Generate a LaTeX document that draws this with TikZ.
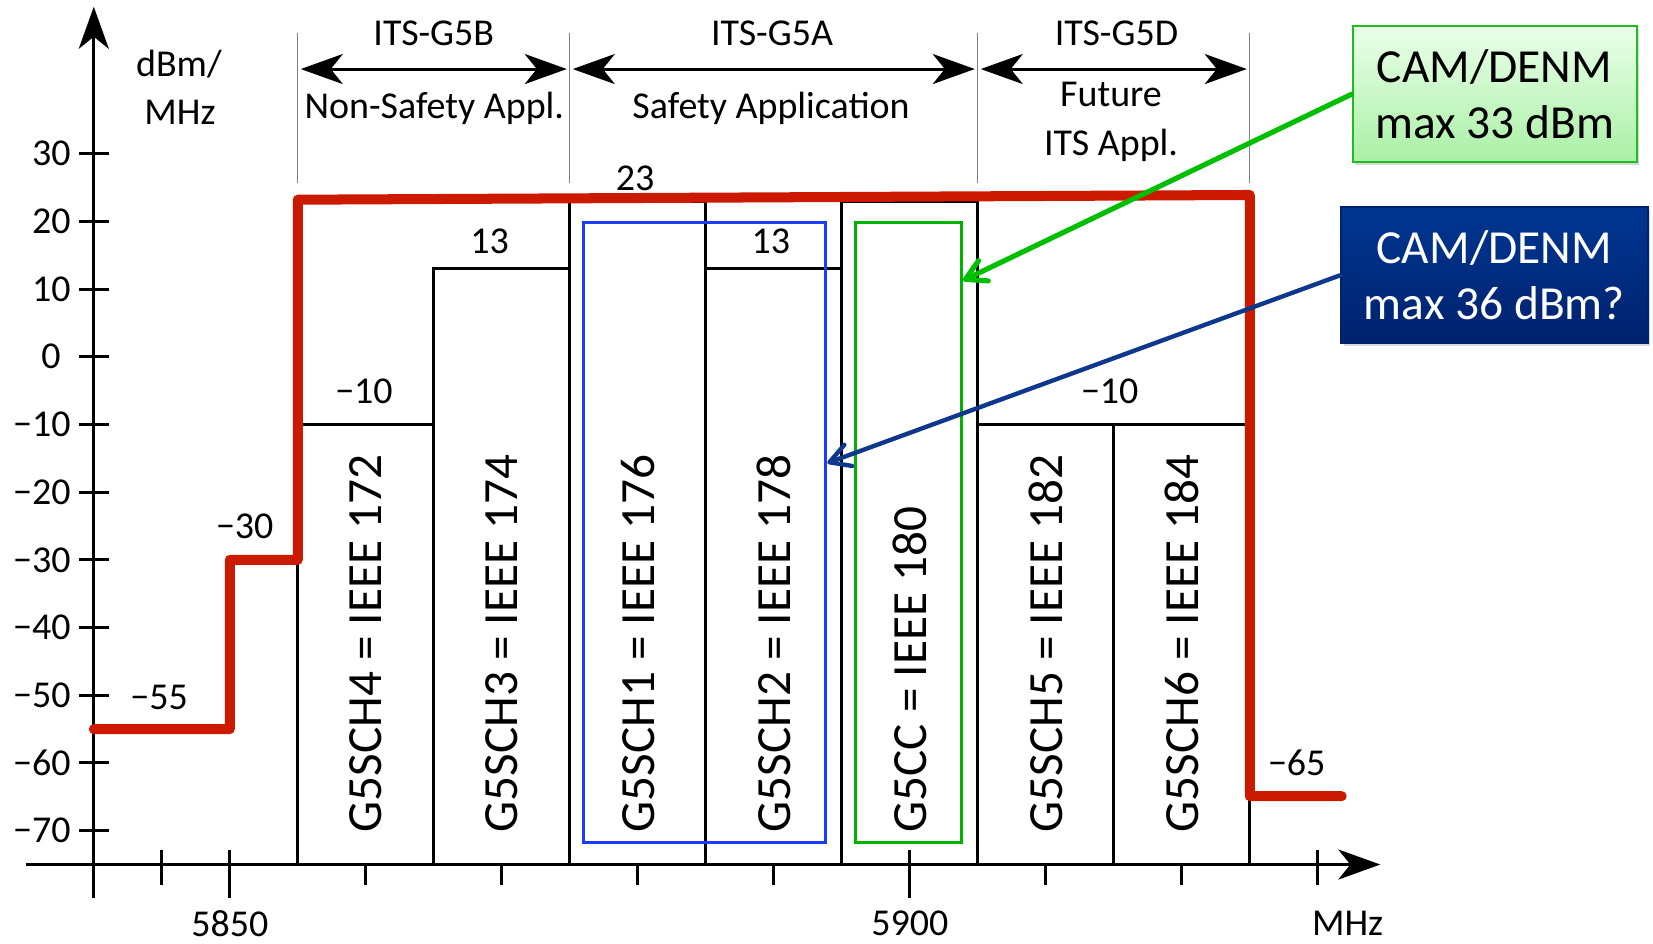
\documentclass[tikz,border=0pt]{standalone}
\usepackage{fontspec}
\setmainfont{Carlito}
\usetikzlibrary{arrows.meta,calc,shadows}

\definecolor{maskred}{RGB}{204,26,0}
\definecolor{schblue}{RGB}{25,60,255}
\definecolor{ccgreen}{RGB}{0,180,0}
\definecolor{arrgreen}{RGB}{0,190,0}
\definecolor{arrblue}{RGB}{15,55,140}
\definecolor{cgtop}{RGB}{234,255,234}
\definecolor{cgbot}{RGB}{170,240,165}
\definecolor{cgline}{RGB}{30,190,30}
\definecolor{cbtop}{RGB}{0,54,145}
\definecolor{cbbot}{RGB}{0,34,110}

\newcommand\lblfont{\fontsize{21.6}{25}\selectfont}
\newcommand\bigfont{\fontsize{27}{32}\selectfont}
\newcommand\chfont{\fontsize{28}{32}\selectfont}

\begin{document}
\begin{tikzpicture}[x=0.272cm,y=0.1354cm,
    >={Stealth[length=0.84cm,width=0.6cm,inset=0.24cm]},
    every node/.style={inner sep=0pt,font=\lblfont},
    axisline/.style={line width=1.7pt},
    chline/.style={line width=1.7pt},
    bandsep/.style={gray,line width=0.8pt},
    bandarrow/.style={line width=1.7pt,<->,shorten <=1.7pt,shorten >=1.7pt},
    redmask/.style={maskred,line width=5.7pt,line join=round,line cap=round},
    chlabel/.style={rotate=90,anchor=west,font=\chfont},
    hlbox/.style={line width=1.7pt,minimum height=12.40cm},
    callout/.style={minimum height=2.72cm,align=center,font=\bigfont,line width=1.1pt,
        drop shadow={shadow xshift=1.5pt,shadow yshift=-1.5pt,opacity=0.3}},
    callarrow/.style={line width=2.9pt,line cap=round,-{Straight Barb[length=0.4cm,width=0.45cm,round]}}]
\useasboundingbox (-6.897,-86.60) rectangle (114.65,52.70);

% axes
\coordinate (ybot) at (0,-80);
\coordinate (ytop) at (0,51.7);
\coordinate (xbeg) at (-5,-75);
\coordinate (xend) at (94.6,-75);
\draw[axisline,->] (ybot) -- (ytop);
\draw[axisline,->] (xbeg) -- (xend);
\foreach \v in {30,20,...,-70}
    \draw[axisline] (-1.1,\v) -- (1.1,\v);
\foreach \v/\t in {30/30,20/20,10/10,-10/−10,-20/−20,-30/−30,-40/−40,-50/−50,-60/−60,-70/−70}
    \node[anchor=east] (yl\v) at (-1.68,\v) {\t};
\node[anchor=east] (yl0) at (-2.41,0) {0};
\foreach \f in {20,30,...,80}
    \draw[axisline] (\f,-75) -- (\f,-77.95);
\foreach \f in {5,90}
    \draw[axisline] (\f,-72.8) -- (\f,-77.95);
\foreach \f in {10,60}
    \draw[axisline] (\f,-72.8) -- (\f,-80);
\node (f5850) at (10,-83.7) {5850};
\node (f5900) at (60,-83.7) {5900};
\node (fmhz) at (92.2,-83.7) {MHz};
\node[anchor=base] (unit1) at (6.26,41.37) {dBm/};
\node[anchor=base] (unit2) at (6.34,34.38) {MHz};

% channels
\foreach \lo/\hi in {15/-10,25/13,35/23,45/13,55/23,65/-10,75/-10}
    \draw[chline] (\lo,-75) rectangle (\lo+10,\hi);
\draw[chline] (85,-75) -- (85,-65);
\foreach \c/\t in {20/G5SCH4 = IEEE 172,30/G5SCH3 = IEEE 174,40/G5SCH1 = IEEE 176,
    50/G5SCH2 = IEEE 178,60/G5CC = IEEE 180,70/G5SCH5 = IEEE 182,80/G5SCH6 = IEEE 184}
    \node[chlabel] (ch\c) at (\c,-70.3) {\t};

% limits
\node (v55) at (4.8,-50.26) {−55};
\node (v30) at (11.1,-25.1) {−30};
\node (v10a) at (19.87,-5.16) {−10};
\node (v13a) at (29.1,16.99) {13};
\node (v23) at (39.8,26.36) {23};
\node (v13b) at (49.79,16.99) {13};
\node (v10b) at (74.7,-5.16) {−10};
\node (v65) at (88.45,-59.93) {−65};
\draw[redmask] (0,-55) -- (10,-55) -- (10,-30) -- (15,-30) -- (15,23.2)
    -- (85,23.9) -- (85,-64.9) -- (91.76,-64.9);

% bands
\foreach \b in {15,35,65,85}
    \draw[bandsep] (\b,25.6) -- (\b,47.8);
\coordinate (b1) at (15,42.5);
\coordinate (b2) at (35,42.5);
\coordinate (b3) at (65,42.5);
\coordinate (b4) at (85,42.5);
\draw[bandarrow] (b1) -- (b2);
\draw[bandarrow] (b2) -- (b3);
\draw[bandarrow] (b3) -- (b4);
\node[anchor=base] (g5b) at (25,46.05) {ITS-G5B};
\node[anchor=base] (g5bt) at (25.04,35.22) {Non-Safety Appl.};
\node[anchor=base] (g5a) at (49.87,46.05) {ITS-G5A};
\node[anchor=base] (g5at) at (49.8,35.22) {Safety Application};
\node[anchor=base] (g5d) at (75.2,46.05) {ITS-G5D};
\node[anchor=base] (g5dt1) at (74.8,36.94) {Future};
\node[anchor=base] (g5dt2) at (74.8,29.80) {ITS Appl.};

% highlights and callouts
\node[hlbox,draw=schblue,minimum width=4.85cm] (schbox) at (44.915,-26.0) {};
\node[hlbox,draw=ccgreen,minimum width=2.116cm] (ccbox) at (59.92,-26.0) {};
\node[callout,draw=cgline,top color=cgtop,bottom color=cgbot,minimum width=5.68cm]
    (cg) at (103.0,38.78) {CAM/DENM\\max 33 dBm};
\node[callout,draw=cbbot,top color=cbtop,bottom color=cbbot,text=white,minimum width=6.13cm]
    (cb) at (102.98,12.03) {CAM/DENM\\max 36 dBm?};
\draw[callarrow,arrgreen] (cg.west) -- ($(ccbox.north east)!0.095!(ccbox.south east)$);
\draw[callarrow,arrblue,line width=2.5pt] (cb.west) -- ($(schbox.north east)!0.388!(schbox.south east)$);
\end{tikzpicture}
\end{document}
